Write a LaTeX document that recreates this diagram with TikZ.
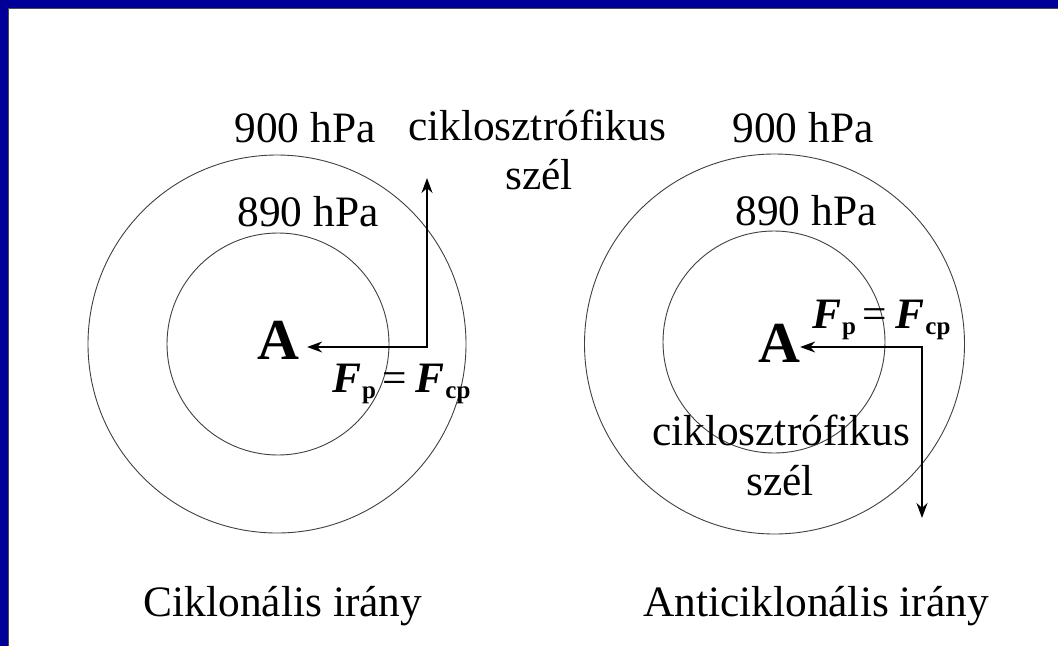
\documentclass[tikz,border=0pt]{standalone}
\usepackage{fontspec}
\setmainfont{Liberation Serif}
\usetikzlibrary{arrows.meta}
\definecolor{frameblue}{RGB}{0,0,153}
\begin{document}
\begin{tikzpicture}[x=1pt,y=-1pt,
  lbl/.style={inner sep=0pt, anchor=base, font=\fontsize{43.4}{49}\selectfont},
  force/.style={inner sep=0pt, anchor=base west, font=\fontsize{43.4}{49}\selectfont},
  bigA/.style={inner sep=0pt, anchor=base, font=\fontsize{58}{60}\selectfont\bfseries},
  ring/.style={draw=black!75, line width=0.9pt},
  wind/.style={draw=black, line width=1.7pt, line join=miter,
    {Stealth[length=15pt,width=11pt]}-{Stealth[length=15pt,width=11pt]}},
]
\newcommand{\Fpcp}{\textbf{\textit{F}}\hspace{1pt}\raisebox{-6pt}{\fontsize{25}{25}\selectfont\bfseries p}\hspace{6pt}=\hspace{9pt}\textbf{\textit{F}}\hspace{1pt}\raisebox{-6pt}{\fontsize{25}{25}\selectfont\bfseries cp}}
\fill[white] (0,0) rectangle (1058,646);
\useasboundingbox (0,0) rectangle (1058,646);
\fill[frameblue] (0,0) rectangle (1058,8);
\fill[frameblue] (0,0) rectangle (8,646);
\draw[black!70, line width=0.8pt] (1058,8.4) -- (8.4,8.4) -- (8.4,646);

% left diagram
\draw[ring] (277,344) circle[radius=189];
\draw[ring] (278,344) circle[radius=111];
\node[lbl] (p900L) at (305,142) {900 hPa};
\node[lbl] (p890L) at (308,226) {890 hPa};
\node[lbl] (windL1) at (537,140) {ciklosztrófikus};
\node[lbl] (windL2) at (539,189) {szél};
\node[bigA, inner xsep=8pt] (A1) at (278,359) {A};
\node[force] (FL) at (332,392) {\Fpcp};
\coordinate (c1) at (427,347);
\coordinate (t1) at (427,178);
\draw[wind] (t1) -- (c1) -- (c1 -| A1.east);

% right diagram
\draw[ring] (774.5,344) circle[radius=190];
\draw[ring] (774,342) circle[radius=111];
\node[lbl] (p900R) at (803,142) {900 hPa};
\node[lbl] (p890R) at (806,225) {890 hPa};
\node[lbl] (windR1) at (781,445) {ciklosztrófikus};
\node[lbl] (windR2) at (780,495) {szél};
\node[bigA] (A2) at (779,362) {A};
\node[force] (FR) at (812,328) {\Fpcp};
\coordinate (c2) at (922,347);
\coordinate (t2) at (922,518);
\draw[wind] (t2) -- (c2) -- (c2 -| A2.east);

% captions
\node[lbl] (capL) at (283,616) {Ciklonális irány};
\node[lbl] (capR) at (816,616) {Anticiklonális irány};
\end{tikzpicture}
\end{document}
